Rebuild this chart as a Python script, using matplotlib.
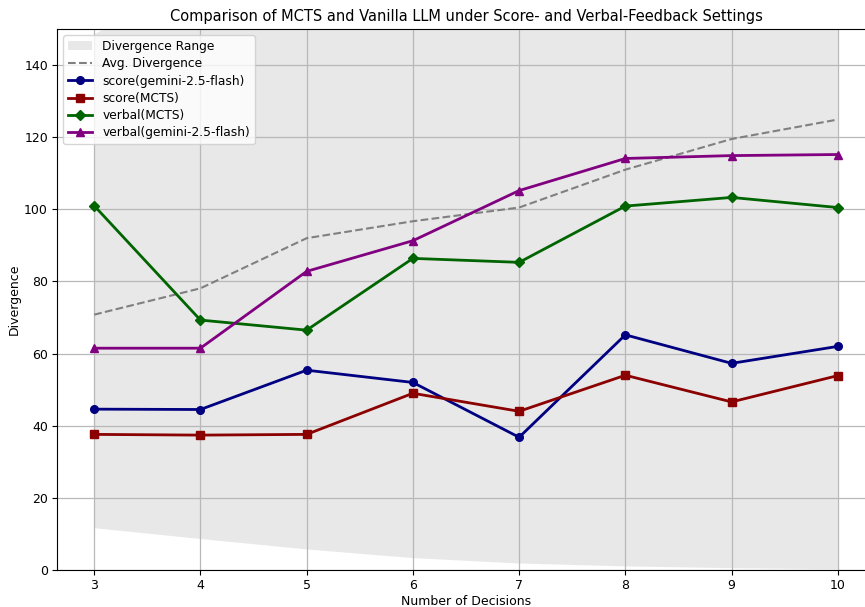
import matplotlib
matplotlib.use("Agg")
import matplotlib.pyplot as plt

decisions = [3, 4, 5, 6, 7, 8, 9, 10]

score_gemini = [44.6, 44.5, 55.4, 52.0, 36.8, 65.2, 57.3, 62.0]
score_mcts = [37.6, 37.4, 37.6, 49.0, 44.0, 54.0, 46.6, 53.9]
verbal_mcts = [101.0, 69.3, 66.5, 86.4, 85.3, 100.9, 103.3, 100.5]
verbal_gemini = [61.5, 61.5, 82.8, 91.3, 105.2, 114.1, 114.9, 115.2]
avg_divergence = [70.8, 78.1, 92.0, 96.7, 100.5, 111.0, 119.5, 124.9]

range_low = [11.6, 8.6, 5.7, 3.3, 1.8, 1.0, 0.5, 0.2]
range_high = [148.5, 165.0, 180.0, 190.0, 200.0, 215.0, 230.0, 245.0]

fig = plt.figure(figsize=(8.65, 6.07), dpi=100)
ax = fig.add_axes([57 / 865, 37 / 607, 818 / 865, 541 / 607])

ax.fill_between(decisions, range_low, range_high, color="lightgray", alpha=0.5,
                linewidth=0, label="Divergence Range")
ax.plot(decisions, avg_divergence, linestyle="--", color="gray", linewidth=1.5,
        label="Avg. Divergence")
ax.plot(decisions, score_gemini, marker="o", color="navy", linewidth=2,
        markersize=5.5, label="score(gemini-2.5-flash)")
ax.plot(decisions, score_mcts, marker="s", color="darkred", linewidth=2,
        markersize=5.5, label="score(MCTS)")
ax.plot(decisions, verbal_mcts, marker="D", color="darkgreen", linewidth=2,
        markersize=5.5, label="verbal(MCTS)")
ax.plot(decisions, verbal_gemini, marker="^", color="purple", linewidth=2,
        markersize=5.5, label="verbal(gemini-2.5-flash)")

ax.set_xlim(2.65, 10.35)
ax.set_ylim(0, 150)
ax.set_xticks(decisions)
ax.set_yticks(range(0, 141, 20))
ax.tick_params(labelsize=9, length=3.5, pad=3)
ax.grid(True, color="#b8b8b8", linewidth=0.9)

ax.set_title("Comparison of MCTS and Vanilla LLM under Score- and Verbal-Feedback Settings",
             fontsize=10.5)
ax.set_xlabel("Number of Decisions", fontsize=9, labelpad=2)
ax.set_ylabel("Divergence", fontsize=9, labelpad=2.5)
ax.legend(loc="upper left", fontsize=8.8, handlelength=2.0, labelspacing=0.35,
          borderaxespad=0.5)

fig.savefig("out.png", dpi=100)
